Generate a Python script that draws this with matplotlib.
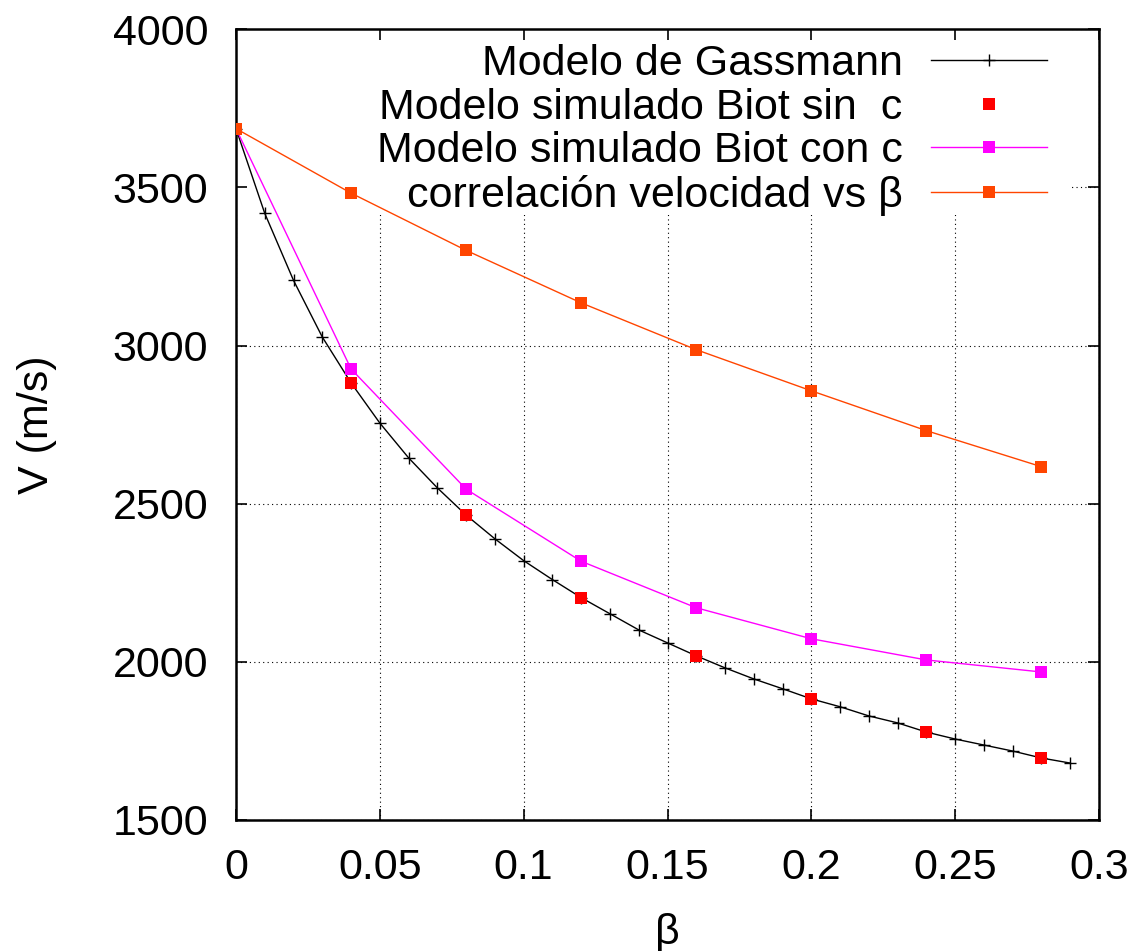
import matplotlib
matplotlib.use("Agg")
import matplotlib.pyplot as plt
from matplotlib.path import Path
from matplotlib.ticker import FixedLocator, FuncFormatter

plt.rcParams['font.family'] = ['Liberation Sans', 'DejaVu Sans']

# Gassmann model, porosity step 0.01
beta_gass = [0.00, 0.01, 0.02, 0.03, 0.04, 0.05, 0.06, 0.07, 0.08, 0.09,
             0.10, 0.11, 0.12, 0.13, 0.14, 0.15, 0.16, 0.17, 0.18, 0.19,
             0.20, 0.21, 0.22, 0.23, 0.24, 0.25, 0.26, 0.27, 0.28, 0.29]
v_gass = [3686, 3418, 3206, 3027, 2882, 2755, 2645, 2550, 2464, 2389,
          2320, 2260, 2203, 2152, 2101, 2060, 2019, 1981, 1946, 1915,
          1883, 1858, 1829, 1807, 1778, 1756, 1737, 1718, 1696, 1680]

# Simulated Biot model and velocity correlation, porosity step 0.04
beta_sim = [0.00, 0.04, 0.08, 0.12, 0.16, 0.20, 0.24, 0.28]
v_biot_sin_c = [3686, 2882, 2464, 2203, 2019, 1883, 1778, 1696]
v_biot_con_c = [3686, 2926, 2546, 2318, 2171, 2073, 2006, 1968]
v_correlacion = [3686, 3482, 3301, 3135, 2987, 2857, 2731, 2617]

x_ticks = [0, 0.05, 0.1, 0.15, 0.2, 0.25, 0.3]
y_ticks = [1500, 2000, 2500, 3000, 3500, 4000]

labels = ["Modelo de Gassmann", "Modelo simulado Biot sin  c",
          "Modelo simulado Biot con c", "correlación velocidad vs β"]

FS = 31
W, H = 1137, 951
fig = plt.figure(figsize=(W / 100, H / 100), dpi=100)
ax = fig.add_axes([236 / W, 1 - 820 / H, (1099 - 236) / W, (820 - 29.3) / H])

ax.plot(beta_gass, v_gass, color='black', lw=1.0, marker='+', ms=9, mew=1.0,
        label=labels[0], zorder=3)
ax.plot(beta_sim, v_biot_sin_c, color='#ff0000', ls='none', marker='s', ms=8,
        mew=0, label=labels[1], zorder=4)
ax.plot(beta_sim, v_biot_con_c, color='#ff00ff', lw=1.0, marker='s', ms=8,
        mew=0, label=labels[2], zorder=4)
ax.plot(beta_sim, v_correlacion, color='#ff4500', lw=1.0, marker='s', ms=8,
        mew=0, label=labels[3], zorder=4)

ax.set_xlim(0, 0.3)
ax.set_ylim(1500, 4000)
ax.xaxis.set_major_locator(FixedLocator(x_ticks))
ax.yaxis.set_major_locator(FixedLocator(y_ticks))
ax.xaxis.set_major_formatter(FuncFormatter(lambda v, p: f"{v:g}"))
ax.yaxis.set_major_formatter(FuncFormatter(lambda v, p: f"{v:g}"))

ax.tick_params(axis='both', which='major', direction='in', length=8, width=1.2,
               labelsize=FS, top=True, right=True, pad=20)
for s in ax.spines.values():
    s.set_linewidth(1.8)

ax.set_axisbelow(True)
ax.grid(True, color='black', lw=0.8, ls=(0, (1, 3)))

ax.set_xlabel("β", fontsize=FS, labelpad=18)
ax.set_ylabel("V (m/s)", fontsize=FS, labelpad=40)

leg = ax.legend(loc='upper right', bbox_to_anchor=(0.9397, 0.981),
                frameon=False, markerfirst=False, fontsize=FS,
                handlelength=2.7, handletextpad=0.65, labelspacing=0.08,
                borderpad=0, borderaxespad=0)
for line in leg.get_lines():
    line.set_linewidth(1.0)

# Key area hides the grid: clip gridlines to the plot minus the key box
fig.canvas.draw()
kx, ky = 0.9676, 0.765
outer = [(0, 0), (1, 0), (1, 1), (0, 1), (0, 0)]
inner = [(0, ky), (0, 1), (kx, 1), (kx, ky), (0, ky)]
verts = outer + inner
codes = ([Path.MOVETO] + [Path.LINETO] * 3 + [Path.CLOSEPOLY]) * 2
clip = Path(verts, codes)
for gl in ax.xaxis.get_gridlines() + ax.yaxis.get_gridlines():
    gl.set_clip_path(clip, ax.transAxes)

fig.savefig("out.png", dpi=100)
